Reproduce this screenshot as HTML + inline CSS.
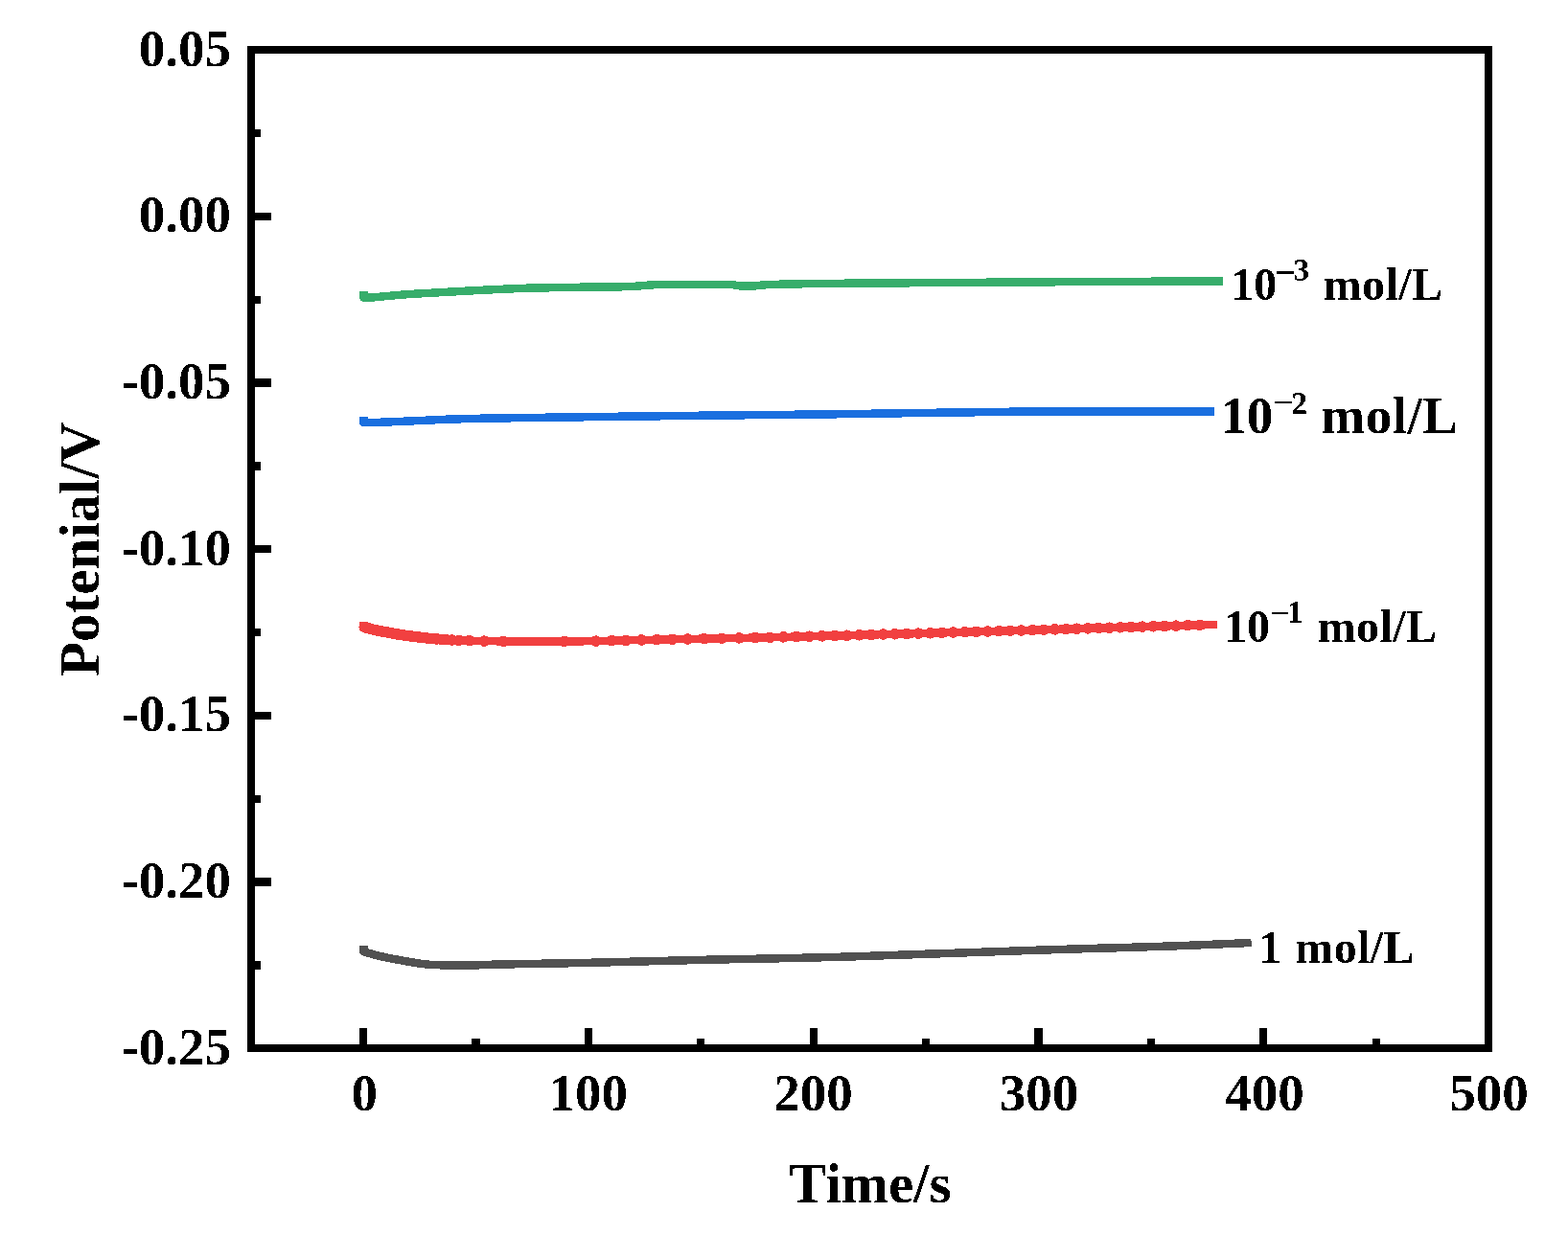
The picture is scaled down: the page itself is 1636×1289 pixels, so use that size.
<!DOCTYPE html>
<html lang="en">
<head>
<meta charset="utf-8">
<title>Potential vs Time</title>
<style>
html,body{margin:0;padding:0;background:#fff;}
body{width:1636px;height:1289px;overflow:hidden;}
svg{display:block;}
text{font-family:"Liberation Serif","Times New Roman",serif;font-weight:bold;fill:#000;}
</style>
</head>
<body>
<svg width="1636" height="1289" viewBox="0 0 1636 1289">
<defs><filter id="crisp" x="0" y="0" width="1636" height="1289" filterUnits="userSpaceOnUse" color-interpolation-filters="sRGB"><feComponentTransfer><feFuncA type="discrete" tableValues="0 1"/></feComponentTransfer></filter></defs>
<rect x="0" y="0" width="1636" height="1289" fill="#ffffff"/>
<path d="M379.4,987.3 L379.4,993.2 L383.4,994.5 L387.4,995.6 L391.4,996.7 L395.4,997.7 L399.4,998.6 L403.4,999.5 L407.4,1000.3 L411.4,1001.1 L415.4,1001.8 L419.4,1002.5 L423.4,1003.2 L427.4,1003.9 L431.4,1004.6 L435.4,1005.2 L439.4,1005.8 L443.4,1006.3 L447.4,1006.7 L451.4,1007.0 L455.4,1007.1 L459.4,1007.3 L463.4,1007.4 L467.4,1007.5 L471.4,1007.6 L475.4,1007.7 L479.4,1007.7 L483.4,1007.7 L487.4,1007.6 L491.4,1007.6 L495.4,1007.4 L499.4,1007.3 L503.4,1007.1 L507.4,1007.0 L511.4,1006.8 L515.4,1006.7 L519.4,1006.6 L523.4,1006.6 L527.4,1006.5 L531.4,1006.4 L535.4,1006.3 L539.4,1006.2 L543.4,1006.1 L547.4,1006.1 L551.4,1006.0 L555.4,1005.9 L559.4,1005.9 L563.4,1005.8 L567.4,1005.7 L571.4,1005.6 L575.4,1005.6 L579.4,1005.5 L583.4,1005.4 L587.4,1005.3 L591.4,1005.3 L595.4,1005.2 L599.4,1005.1 L603.4,1005.0 L607.4,1004.9 L611.4,1004.8 L615.4,1004.8 L619.4,1004.7 L623.4,1004.6 L627.4,1004.5 L631.4,1004.4 L635.4,1004.3 L639.4,1004.2 L643.4,1004.1 L647.4,1004.0 L651.4,1003.9 L655.4,1003.8 L659.4,1003.7 L663.4,1003.6 L667.4,1003.5 L671.4,1003.4 L675.4,1003.3 L679.4,1003.2 L683.4,1003.1 L687.4,1003.0 L691.4,1002.9 L695.4,1002.8 L699.4,1002.7 L703.4,1002.6 L707.4,1002.5 L711.4,1002.4 L715.4,1002.3 L719.4,1002.2 L723.4,1002.1 L727.4,1002.0 L731.4,1001.9 L735.4,1001.8 L739.4,1001.7 L743.4,1001.6 L747.4,1001.6 L751.4,1001.5 L755.4,1001.4 L759.4,1001.3 L763.4,1001.2 L767.4,1001.2 L771.4,1001.1 L775.4,1001.0 L779.4,1000.9 L783.4,1000.8 L787.4,1000.8 L791.4,1000.7 L795.4,1000.6 L799.4,1000.5 L803.4,1000.5 L807.4,1000.4 L811.4,1000.3 L815.4,1000.2 L819.4,1000.1 L823.4,1000.0 L827.4,1000.0 L831.4,999.9 L835.4,999.8 L839.4,999.7 L843.4,999.6 L847.4,999.5 L851.4,999.4 L855.4,999.3 L859.4,999.2 L863.4,999.1 L867.4,999.0 L871.4,998.9 L875.4,998.8 L879.4,998.7 L883.4,998.5 L887.4,998.4 L891.4,998.3 L895.4,998.2 L899.4,998.0 L903.4,997.9 L907.4,997.8 L911.4,997.6 L915.4,997.5 L919.4,997.4 L923.4,997.2 L927.4,997.1 L931.4,997.0 L935.4,996.8 L939.4,996.7 L943.4,996.5 L947.4,996.4 L951.4,996.3 L955.4,996.1 L959.4,996.0 L963.4,995.8 L967.4,995.7 L971.4,995.6 L975.4,995.4 L979.4,995.3 L983.4,995.2 L987.4,995.0 L991.4,994.9 L995.4,994.8 L999.4,994.6 L1003.4,994.5 L1007.4,994.3 L1011.4,994.2 L1015.4,994.1 L1019.4,993.9 L1023.4,993.8 L1027.4,993.6 L1031.4,993.5 L1035.4,993.4 L1039.4,993.2 L1043.4,993.1 L1047.4,992.9 L1051.4,992.8 L1055.4,992.7 L1059.4,992.5 L1063.4,992.4 L1067.4,992.2 L1071.4,992.1 L1075.4,992.0 L1079.4,991.8 L1083.4,991.7 L1087.4,991.6 L1091.4,991.4 L1095.4,991.3 L1099.4,991.2 L1103.4,991.0 L1107.4,990.9 L1111.4,990.8 L1115.4,990.7 L1119.4,990.5 L1123.4,990.4 L1127.4,990.3 L1131.4,990.2 L1135.4,990.1 L1139.4,990.0 L1143.4,989.8 L1147.4,989.7 L1151.4,989.6 L1155.4,989.5 L1159.4,989.4 L1163.4,989.3 L1167.4,989.2 L1171.4,989.0 L1175.4,988.9 L1179.4,988.8 L1183.4,988.7 L1187.4,988.6 L1191.4,988.5 L1195.4,988.3 L1199.4,988.2 L1203.4,988.1 L1207.4,988.0 L1211.4,987.8 L1215.4,987.7 L1219.4,987.6 L1223.4,987.4 L1227.4,987.3 L1231.4,987.1 L1235.4,987.0 L1239.4,986.8 L1243.4,986.7 L1247.4,986.5 L1251.4,986.3 L1255.4,986.2 L1259.4,986.0 L1263.4,985.8 L1267.4,985.7 L1271.4,985.5 L1275.4,985.3 L1279.4,985.1 L1283.4,984.9 L1287.4,984.8 L1291.4,984.6 L1295.4,984.4 L1299.4,984.2 L1303.4,984.0 L1305.6,983.9" fill="none" stroke="#515151" stroke-width="8.5" stroke-linejoin="round" stroke-linecap="butt" shape-rendering="crispEdges"/>
<path d="M379.4,648.7 L379.4,654.2 L383.4,655.4 L387.4,656.5 L391.4,657.5 L395.4,658.3 L399.4,659.1 L403.4,659.9 L407.4,660.6 L411.4,661.3 L415.4,662.0 L419.4,662.7 L423.4,663.2 L427.4,663.8 L431.4,664.3 L435.4,664.8 L439.4,665.3 L443.4,665.7 L447.4,666.2 L451.4,666.6 L455.4,666.9 L459.4,667.3 L463.4,667.5 L467.4,667.8 L471.4,668.0 L475.4,668.2 L479.4,668.4 L483.4,668.5 L487.4,668.7 L491.4,668.8 L495.4,668.9 L499.4,669.0 L503.4,669.0 L507.4,669.1 L511.4,669.2 L515.4,669.2 L519.4,669.3 L523.4,669.4 L527.4,669.5 L531.4,669.5 L535.4,669.6 L539.4,669.6 L543.4,669.6 L547.4,669.6 L551.4,669.6 L555.4,669.6 L559.4,669.6 L563.4,669.6 L567.4,669.5 L571.4,669.5 L575.4,669.5 L579.4,669.5 L583.4,669.5 L587.4,669.4 L591.4,669.4 L595.4,669.4 L599.4,669.3 L603.4,669.3 L607.4,669.3 L611.4,669.2 L615.4,669.2 L619.4,669.1 L623.4,669.0 L627.4,669.0 L631.4,668.9 L635.4,668.8 L639.4,668.7 L643.4,668.6 L647.4,668.5 L651.4,668.4 L655.4,668.3 L659.4,668.2 L663.4,668.1 L667.4,668.1 L671.4,668.0 L675.4,667.9 L679.4,667.8 L683.4,667.7 L687.4,667.6 L691.4,667.6 L695.4,667.5 L699.4,667.4 L703.4,667.3 L707.4,667.2 L711.4,667.1 L715.4,667.0 L719.4,667.0 L723.4,666.9 L727.4,666.8 L731.4,666.7 L735.4,666.6 L739.4,666.5 L743.4,666.5 L747.4,666.4 L751.4,666.3 L755.4,666.2 L759.4,666.2 L763.4,666.1 L767.4,666.0 L771.4,665.9 L775.4,665.9 L779.4,665.8 L783.4,665.7 L787.4,665.6 L791.4,665.5 L795.4,665.4 L799.4,665.3 L803.4,665.2 L807.4,665.1 L811.4,665.1 L815.4,665.0 L819.4,664.9 L823.4,664.8 L827.4,664.7 L831.4,664.5 L835.4,664.4 L839.4,664.3 L843.4,664.2 L847.4,664.1 L851.4,664.0 L855.4,663.9 L859.4,663.8 L863.4,663.7 L867.4,663.6 L871.4,663.5 L875.4,663.4 L879.4,663.3 L883.4,663.2 L887.4,663.1 L891.4,663.0 L895.4,662.8 L899.4,662.7 L903.4,662.6 L907.4,662.5 L911.4,662.4 L915.4,662.3 L919.4,662.2 L923.4,662.1 L927.4,662.0 L931.4,661.8 L935.4,661.7 L939.4,661.6 L943.4,661.5 L947.4,661.4 L951.4,661.3 L955.4,661.2 L959.4,661.1 L963.4,660.9 L967.4,660.8 L971.4,660.7 L975.4,660.6 L979.4,660.5 L983.4,660.4 L987.4,660.3 L991.4,660.1 L995.4,660.0 L999.4,659.9 L1003.4,659.8 L1007.4,659.7 L1011.4,659.6 L1015.4,659.4 L1019.4,659.3 L1023.4,659.2 L1027.4,659.1 L1031.4,659.0 L1035.4,658.9 L1039.4,658.7 L1043.4,658.6 L1047.4,658.5 L1051.4,658.4 L1055.4,658.3 L1059.4,658.1 L1063.4,658.0 L1067.4,657.9 L1071.4,657.8 L1075.4,657.7 L1079.4,657.5 L1083.4,657.4 L1087.4,657.3 L1091.4,657.2 L1095.4,657.1 L1099.4,657.0 L1103.4,656.8 L1107.4,656.7 L1111.4,656.6 L1115.4,656.5 L1119.4,656.4 L1123.4,656.2 L1127.4,656.1 L1131.4,656.0 L1135.4,655.9 L1139.4,655.7 L1143.4,655.6 L1147.4,655.5 L1151.4,655.4 L1155.4,655.2 L1159.4,655.1 L1163.4,655.0 L1167.4,654.9 L1171.4,654.8 L1175.4,654.6 L1179.4,654.5 L1183.4,654.4 L1187.4,654.3 L1191.4,654.1 L1195.4,654.0 L1199.4,653.9 L1203.4,653.8 L1207.4,653.7 L1211.4,653.5 L1215.4,653.4 L1219.4,653.3 L1223.4,653.2 L1227.4,653.1 L1231.4,653.0 L1235.4,652.9 L1239.4,652.7 L1243.4,652.6 L1247.4,652.5 L1251.4,652.4 L1255.4,652.3 L1259.4,652.2 L1263.4,652.1 L1267.4,652.0 L1270.0,651.9" fill="none" stroke="#F14040" stroke-width="8.5" stroke-linejoin="round" stroke-linecap="butt" shape-rendering="crispEdges"/>
<g fill="#F14040" shape-rendering="crispEdges"><circle cx="380.3" cy="654.5" r="5.8"/><circle cx="382.6" cy="655.2" r="5.8"/><circle cx="385.0" cy="655.9" r="5.8"/><circle cx="387.6" cy="656.6" r="5.8"/><circle cx="390.4" cy="657.3" r="5.8"/><circle cx="391.9" cy="657.6" r="5.8"/><circle cx="393.5" cy="658.0" r="5.8"/><circle cx="395.1" cy="658.3" r="5.8"/><circle cx="396.8" cy="658.6" r="5.8"/><circle cx="398.6" cy="659.0" r="5.8"/><circle cx="400.4" cy="659.3" r="5.8"/><circle cx="402.3" cy="659.7" r="5.8"/><circle cx="404.2" cy="660.0" r="5.8"/><circle cx="406.0" cy="660.4" r="5.8"/><circle cx="408.0" cy="660.7" r="5.8"/><circle cx="409.9" cy="661.1" r="5.8"/><circle cx="411.9" cy="661.4" r="5.8"/><circle cx="413.9" cy="661.8" r="5.8"/><circle cx="416.0" cy="662.1" r="5.8"/><circle cx="418.1" cy="662.5" r="5.8"/><circle cx="420.4" cy="662.8" r="5.8"/><circle cx="422.8" cy="663.2" r="5.8"/><circle cx="425.2" cy="663.5" r="5.8"/><circle cx="427.8" cy="663.9" r="5.8"/><circle cx="430.4" cy="664.2" r="5.8"/><circle cx="433.1" cy="664.5" r="5.8"/><circle cx="435.9" cy="664.9" r="5.8"/><circle cx="438.9" cy="665.2" r="5.8"/><circle cx="442.0" cy="665.6" r="5.8"/><circle cx="445.2" cy="665.9" r="5.8"/><circle cx="448.6" cy="666.3" r="5.8"/><circle cx="452.1" cy="666.6" r="5.8"/><circle cx="455.9" cy="667.0" r="5.8"/><circle cx="460.4" cy="667.3" r="5.8"/><circle cx="465.7" cy="667.7" r="5.8"/><circle cx="471.5" cy="668.0" r="5.8"/><circle cx="478.8" cy="668.4" r="5.8"/><circle cx="489.6" cy="668.7" r="5.8"/><circle cx="505.3" cy="669.1" r="5.8"/><circle cx="525.2" cy="669.4" r="5.8"/><circle cx="588.8" cy="669.4" r="5.8"/><circle cx="621.6" cy="669.1" r="5.8"/><circle cx="638.2" cy="668.7" r="5.8"/><circle cx="653.1" cy="668.4" r="5.8"/><circle cx="669.1" cy="668.0" r="5.8"/><circle cx="685.4" cy="667.7" r="5.8"/><circle cx="701.5" cy="667.3" r="5.8"/><circle cx="717.7" cy="667.0" r="5.8"/><circle cx="734.7" cy="666.6" r="5.8"/><circle cx="753.0" cy="666.3" r="5.8"/><circle cx="771.2" cy="665.9" r="5.8"/><circle cx="788.0" cy="665.6" r="5.8"/><circle cx="803.2" cy="665.3" r="5.8"/><circle cx="817.4" cy="664.9" r="5.8"/><circle cx="831.1" cy="664.6" r="5.8"/><circle cx="844.4" cy="664.2" r="5.8"/><circle cx="857.6" cy="663.9" r="5.8"/><circle cx="870.8" cy="663.5" r="5.8"/><circle cx="883.8" cy="663.2" r="5.8"/><circle cx="896.5" cy="662.8" r="5.8"/><circle cx="909.1" cy="662.5" r="5.8"/><circle cx="921.5" cy="662.1" r="5.8"/><circle cx="933.8" cy="661.8" r="5.8"/><circle cx="946.1" cy="661.4" r="5.8"/><circle cx="958.3" cy="661.1" r="5.8"/><circle cx="970.5" cy="660.7" r="5.8"/><circle cx="982.6" cy="660.4" r="5.8"/><circle cx="994.7" cy="660.0" r="5.8"/><circle cx="1006.7" cy="659.7" r="5.8"/><circle cx="1018.6" cy="659.3" r="5.8"/><circle cx="1030.4" cy="659.0" r="5.8"/><circle cx="1042.2" cy="658.7" r="5.8"/><circle cx="1054.0" cy="658.3" r="5.8"/><circle cx="1065.7" cy="658.0" r="5.8"/><circle cx="1077.3" cy="657.6" r="5.8"/><circle cx="1089.0" cy="657.3" r="5.8"/><circle cx="1100.6" cy="656.9" r="5.8"/><circle cx="1112.2" cy="656.6" r="5.8"/><circle cx="1123.7" cy="656.2" r="5.8"/><circle cx="1135.0" cy="655.9" r="5.8"/><circle cx="1146.3" cy="655.5" r="5.8"/><circle cx="1157.6" cy="655.2" r="5.8"/><circle cx="1168.9" cy="654.8" r="5.8"/><circle cx="1180.2" cy="654.5" r="5.8"/><circle cx="1191.6" cy="654.1" r="5.8"/><circle cx="1203.2" cy="653.8" r="5.8"/><circle cx="1214.9" cy="653.4" r="5.8"/><circle cx="1226.9" cy="653.1" r="5.8"/><circle cx="1239.1" cy="652.7" r="5.8"/><circle cx="1251.6" cy="652.4" r="5.8"/></g>
<path d="M379.5,435.1 L379.5,440.7 L383.5,440.8 L387.5,440.8 L391.5,440.8 L395.5,440.8 L399.5,440.7 L403.5,440.5 L407.5,440.3 L411.5,440.2 L415.5,440.0 L419.5,439.8 L423.5,439.7 L427.5,439.5 L431.5,439.3 L435.5,439.1 L439.5,439.0 L443.5,438.8 L447.5,438.6 L451.5,438.4 L455.5,438.2 L459.5,438.0 L463.5,437.8 L467.5,437.7 L471.5,437.5 L475.5,437.4 L479.5,437.3 L483.5,437.2 L487.5,437.1 L491.5,437.0 L495.5,436.9 L499.5,436.8 L503.5,436.7 L507.5,436.7 L511.5,436.6 L515.5,436.5 L519.5,436.5 L523.5,436.4 L527.5,436.3 L531.5,436.3 L535.5,436.2 L539.5,436.1 L543.5,436.1 L547.5,436.0 L551.5,436.0 L555.5,435.9 L559.5,435.9 L563.5,435.8 L567.5,435.8 L571.5,435.7 L575.5,435.7 L579.5,435.6 L583.5,435.6 L587.5,435.5 L591.5,435.5 L595.5,435.4 L599.5,435.4 L603.5,435.3 L607.5,435.3 L611.5,435.2 L615.5,435.2 L619.5,435.1 L623.5,435.0 L627.5,435.0 L631.5,434.9 L635.5,434.9 L639.5,434.8 L643.5,434.8 L647.5,434.7 L651.5,434.7 L655.5,434.6 L659.5,434.6 L663.5,434.5 L667.5,434.5 L671.5,434.4 L675.5,434.4 L679.5,434.3 L683.5,434.3 L687.5,434.3 L691.5,434.2 L695.5,434.2 L699.5,434.1 L703.5,434.1 L707.5,434.0 L711.5,434.0 L715.5,433.9 L719.5,433.9 L723.5,433.8 L727.5,433.8 L731.5,433.7 L735.5,433.7 L739.5,433.7 L743.5,433.6 L747.5,433.6 L751.5,433.5 L755.5,433.5 L759.5,433.4 L763.5,433.4 L767.5,433.4 L771.5,433.3 L775.5,433.3 L779.5,433.2 L783.5,433.2 L787.5,433.2 L791.5,433.1 L795.5,433.1 L799.5,433.0 L803.5,433.0 L807.5,433.0 L811.5,432.9 L815.5,432.9 L819.5,432.8 L823.5,432.8 L827.5,432.8 L831.5,432.7 L835.5,432.7 L839.5,432.6 L843.5,432.6 L847.5,432.5 L851.5,432.5 L855.5,432.5 L859.5,432.4 L863.5,432.4 L867.5,432.3 L871.5,432.3 L875.5,432.2 L879.5,432.2 L883.5,432.1 L887.5,432.0 L891.5,432.0 L895.5,431.9 L899.5,431.9 L903.5,431.8 L907.5,431.8 L911.5,431.7 L915.5,431.6 L919.5,431.6 L923.5,431.5 L927.5,431.5 L931.5,431.4 L935.5,431.3 L939.5,431.3 L943.5,431.2 L947.5,431.2 L951.5,431.1 L955.5,431.0 L959.5,431.0 L963.5,430.9 L967.5,430.9 L971.5,430.8 L975.5,430.8 L979.5,430.7 L983.5,430.7 L987.5,430.6 L991.5,430.6 L995.5,430.5 L999.5,430.5 L1003.5,430.4 L1007.5,430.4 L1011.5,430.3 L1015.5,430.3 L1019.5,430.2 L1023.5,430.2 L1027.5,430.1 L1031.5,430.0 L1035.5,430.0 L1039.5,429.9 L1043.5,429.9 L1047.5,429.8 L1051.5,429.8 L1055.5,429.7 L1059.5,429.7 L1063.5,429.7 L1067.5,429.6 L1071.5,429.6 L1075.5,429.5 L1079.5,429.5 L1083.5,429.5 L1087.5,429.5 L1091.5,429.4 L1095.5,429.4 L1099.5,429.4 L1103.5,429.4 L1107.5,429.4 L1111.5,429.4 L1115.5,429.4 L1119.5,429.4 L1123.5,429.4 L1127.5,429.4 L1131.5,429.4 L1135.5,429.4 L1139.5,429.4 L1143.5,429.3 L1147.5,429.3 L1151.5,429.3 L1155.5,429.3 L1159.5,429.3 L1163.5,429.3 L1167.5,429.3 L1171.5,429.3 L1175.5,429.3 L1179.5,429.3 L1183.5,429.3 L1187.5,429.3 L1191.5,429.3 L1195.5,429.3 L1199.5,429.3 L1203.5,429.3 L1207.5,429.3 L1211.5,429.3 L1215.5,429.3 L1219.5,429.3 L1223.5,429.3 L1227.5,429.3 L1231.5,429.3 L1235.5,429.3 L1239.5,429.3 L1243.5,429.3 L1247.5,429.3 L1251.5,429.3 L1255.5,429.3 L1259.5,429.3 L1263.5,429.3 L1267.0,429.3" fill="none" stroke="#1A6FDF" stroke-width="8.5" stroke-linejoin="round" stroke-linecap="butt" shape-rendering="crispEdges"/>
<path d="M379.5,304.1 L379.5,310.6 L383.5,310.6 L387.5,310.5 L391.5,310.2 L395.5,309.8 L399.5,309.4 L403.5,309.1 L407.5,308.7 L411.5,308.3 L415.5,308.0 L419.5,307.6 L423.5,307.3 L427.5,307.1 L431.5,306.8 L435.5,306.6 L439.5,306.3 L443.5,306.1 L447.5,305.9 L451.5,305.7 L455.5,305.4 L459.5,305.2 L463.5,305.0 L467.5,304.7 L471.5,304.5 L475.5,304.3 L479.5,304.1 L483.5,303.9 L487.5,303.6 L491.5,303.4 L495.5,303.2 L499.5,303.0 L503.5,302.8 L507.5,302.6 L511.5,302.4 L515.5,302.2 L519.5,302.0 L523.5,301.8 L527.5,301.7 L531.5,301.5 L535.5,301.3 L539.5,301.1 L543.5,301.0 L547.5,300.8 L551.5,300.7 L555.5,300.6 L559.5,300.5 L563.5,300.4 L567.5,300.3 L571.5,300.3 L575.5,300.2 L579.5,300.1 L583.5,300.0 L587.5,300.0 L591.5,299.9 L595.5,299.9 L599.5,299.8 L603.5,299.8 L607.5,299.7 L611.5,299.7 L615.5,299.6 L619.5,299.6 L623.5,299.6 L627.5,299.5 L631.5,299.5 L635.5,299.5 L639.5,299.4 L643.5,299.4 L647.5,299.3 L651.5,299.2 L655.5,299.1 L659.5,299.0 L663.5,298.7 L667.5,298.4 L671.5,298.0 L675.5,297.7 L679.5,297.4 L683.5,297.2 L687.5,297.0 L691.5,297.0 L695.5,297.0 L699.5,297.0 L703.5,297.0 L707.5,296.9 L711.5,296.9 L715.5,296.9 L719.5,296.9 L723.5,296.9 L727.5,296.9 L731.5,296.9 L735.5,296.9 L739.5,296.9 L743.5,296.9 L747.5,296.9 L751.5,296.9 L755.5,296.9 L759.5,296.9 L763.5,296.9 L767.5,297.8 L771.5,298.3 L775.5,298.4 L779.5,298.4 L783.5,298.4 L787.5,298.4 L791.5,298.0 L795.5,297.5 L799.5,297.2 L803.5,297.1 L807.5,297.0 L811.5,296.8 L815.5,296.7 L819.5,296.6 L823.5,296.5 L827.5,296.4 L831.5,296.4 L835.5,296.3 L839.5,296.2 L843.5,296.2 L847.5,296.1 L851.5,296.1 L855.5,296.0 L859.5,296.0 L863.5,295.9 L867.5,295.9 L871.5,295.8 L875.5,295.8 L879.5,295.8 L883.5,295.7 L887.5,295.7 L891.5,295.7 L895.5,295.6 L899.5,295.6 L903.5,295.6 L907.5,295.5 L911.5,295.5 L915.5,295.5 L919.5,295.4 L923.5,295.4 L927.5,295.4 L931.5,295.4 L935.5,295.3 L939.5,295.3 L943.5,295.3 L947.5,295.3 L951.5,295.2 L955.5,295.2 L959.5,295.2 L963.5,295.1 L967.5,295.1 L971.5,295.1 L975.5,295.1 L979.5,295.0 L983.5,295.0 L987.5,295.0 L991.5,295.0 L995.5,294.9 L999.5,294.9 L1003.5,294.9 L1007.5,294.9 L1011.5,294.9 L1015.5,294.8 L1019.5,294.8 L1023.5,294.8 L1027.5,294.8 L1031.5,294.7 L1035.5,294.7 L1039.5,294.7 L1043.5,294.7 L1047.5,294.6 L1051.5,294.6 L1055.5,294.6 L1059.5,294.6 L1063.5,294.5 L1067.5,294.5 L1071.5,294.5 L1075.5,294.4 L1079.5,294.4 L1083.5,294.4 L1087.5,294.4 L1091.5,294.3 L1095.5,294.3 L1099.5,294.3 L1103.5,294.2 L1107.5,294.2 L1111.5,294.2 L1115.5,294.2 L1119.5,294.1 L1123.5,294.1 L1127.5,294.1 L1131.5,294.0 L1135.5,294.0 L1139.5,294.0 L1143.5,294.0 L1147.5,294.0 L1151.5,293.9 L1155.5,293.9 L1159.5,293.9 L1163.5,293.9 L1167.5,293.9 L1171.5,293.9 L1175.5,293.8 L1179.5,293.8 L1183.5,293.8 L1187.5,293.8 L1191.5,293.8 L1195.5,293.8 L1199.5,293.8 L1203.5,293.7 L1207.5,293.7 L1211.5,293.7 L1215.5,293.7 L1219.5,293.7 L1223.5,293.7 L1227.5,293.7 L1231.5,293.7 L1235.5,293.7 L1239.5,293.6 L1243.5,293.6 L1247.5,293.6 L1251.5,293.6 L1255.5,293.6 L1259.5,293.6 L1263.5,293.6 L1267.5,293.6 L1271.5,293.6 L1275.5,293.6 L1276.0,293.6" fill="none" stroke="#37AD6B" stroke-width="8.5" stroke-linejoin="round" stroke-linecap="butt" shape-rendering="crispEdges"/>
<g shape-rendering="crispEdges" fill="#000">
<rect x="258" y="48" width="1299" height="8"/>
<rect x="258" y="1090" width="1299" height="8"/>
<rect x="258" y="48" width="8" height="1050"/>
<rect x="1549" y="48" width="8" height="1050"/>
<rect x="262" y="135" width="10" height="8"/>
<rect x="262" y="222" width="21" height="8"/>
<rect x="262" y="309" width="10" height="8"/>
<rect x="262" y="395" width="21" height="9"/>
<rect x="262" y="482" width="10" height="9"/>
<rect x="262" y="569" width="21" height="8"/>
<rect x="262" y="656" width="10" height="8"/>
<rect x="262" y="743" width="21" height="8"/>
<rect x="262" y="830" width="10" height="8"/>
<rect x="262" y="916" width="21" height="9"/>
<rect x="262" y="1003" width="10" height="9"/>
<rect x="375" y="1073" width="8" height="21"/>
<rect x="492" y="1084" width="9" height="10"/>
<rect x="610" y="1073" width="8" height="21"/>
<rect x="727" y="1084" width="8" height="10"/>
<rect x="845" y="1073" width="8" height="21"/>
<rect x="962" y="1084" width="8" height="10"/>
<rect x="1079" y="1073" width="9" height="21"/>
<rect x="1197" y="1084" width="8" height="10"/>
<rect x="1314" y="1073" width="8" height="21"/>
<rect x="1432" y="1084" width="8" height="10"/>
</g>
<g filter="url(#crisp)">
<text x="144.75" y="69.00" style="font-size:55px;">0.05</text>
<text x="144.75" y="242.00" style="font-size:55px;">0.00</text>
<text x="126.50" y="416.00" style="font-size:55px;">-0.05</text>
<text x="126.50" y="590.00" style="font-size:55px;">-0.10</text>
<text x="126.50" y="763.00" style="font-size:55px;">-0.15</text>
<text x="126.50" y="937.00" style="font-size:55px;">-0.20</text>
<text x="126.50" y="1111.00" style="font-size:55px;">-0.25</text>
<text x="366.45" y="1159.00" style="font-size:55px;">0</text>
<text x="572.50" y="1159.00" style="font-size:55px;">100</text>
<text x="807.33" y="1159.00" style="font-size:55px;">200</text>
<text x="1042.65" y="1159.00" style="font-size:55px;">300</text>
<text x="1278.28" y="1159.00" style="font-size:55px;">400</text>
<text x="1512.22" y="1159.00" style="font-size:55px;">500</text>
<text x="823.10" y="1254.60" style="font-size:59px;">Time/s</text>
<text><tspan x="1284.15" y="313.20" style="font-size:48px;">10</tspan><tspan x="1329.90" y="297.00" style="font-size:39px;">−</tspan><tspan x="1349.55" y="293.00" style="font-size:33.5px;">3 </tspan><tspan x="1380.65" y="313.20" style="font-size:48px;letter-spacing:0.4px;">mol/L</tspan></text>
<text><tspan x="1273.30" y="452.00" style="font-size:55px;">10</tspan><tspan x="1328.00" y="432.80" style="font-size:39px;font-weight:normal;">−</tspan><tspan x="1347.30" y="432.00" style="font-size:33.5px;">2 </tspan><tspan x="1378.30" y="452.00" style="font-size:55px;letter-spacing:0.55px;">mol/L</tspan></text>
<text><tspan x="1276.95" y="669.90" style="font-size:48px;">10</tspan><tspan x="1325.15" y="651.90" style="font-size:37px;font-weight:normal;">−</tspan><tspan x="1343.05" y="650.00" style="font-size:33.5px;">1 </tspan><tspan x="1374.65" y="669.90" style="font-size:48px;letter-spacing:0.4px;">mol/L</tspan></text>
<text><tspan x="1313.25" y="1004.90" style="font-size:48px;">1 </tspan><tspan x="1351.35" y="1004.90" style="font-size:48px;letter-spacing:0.4px;">mol/L</tspan></text>
<text transform="translate(102.8,705.90) rotate(-90)" style="font-size:59px;">Potenial/V</text>
</g>
</svg>
</body>
</html>
